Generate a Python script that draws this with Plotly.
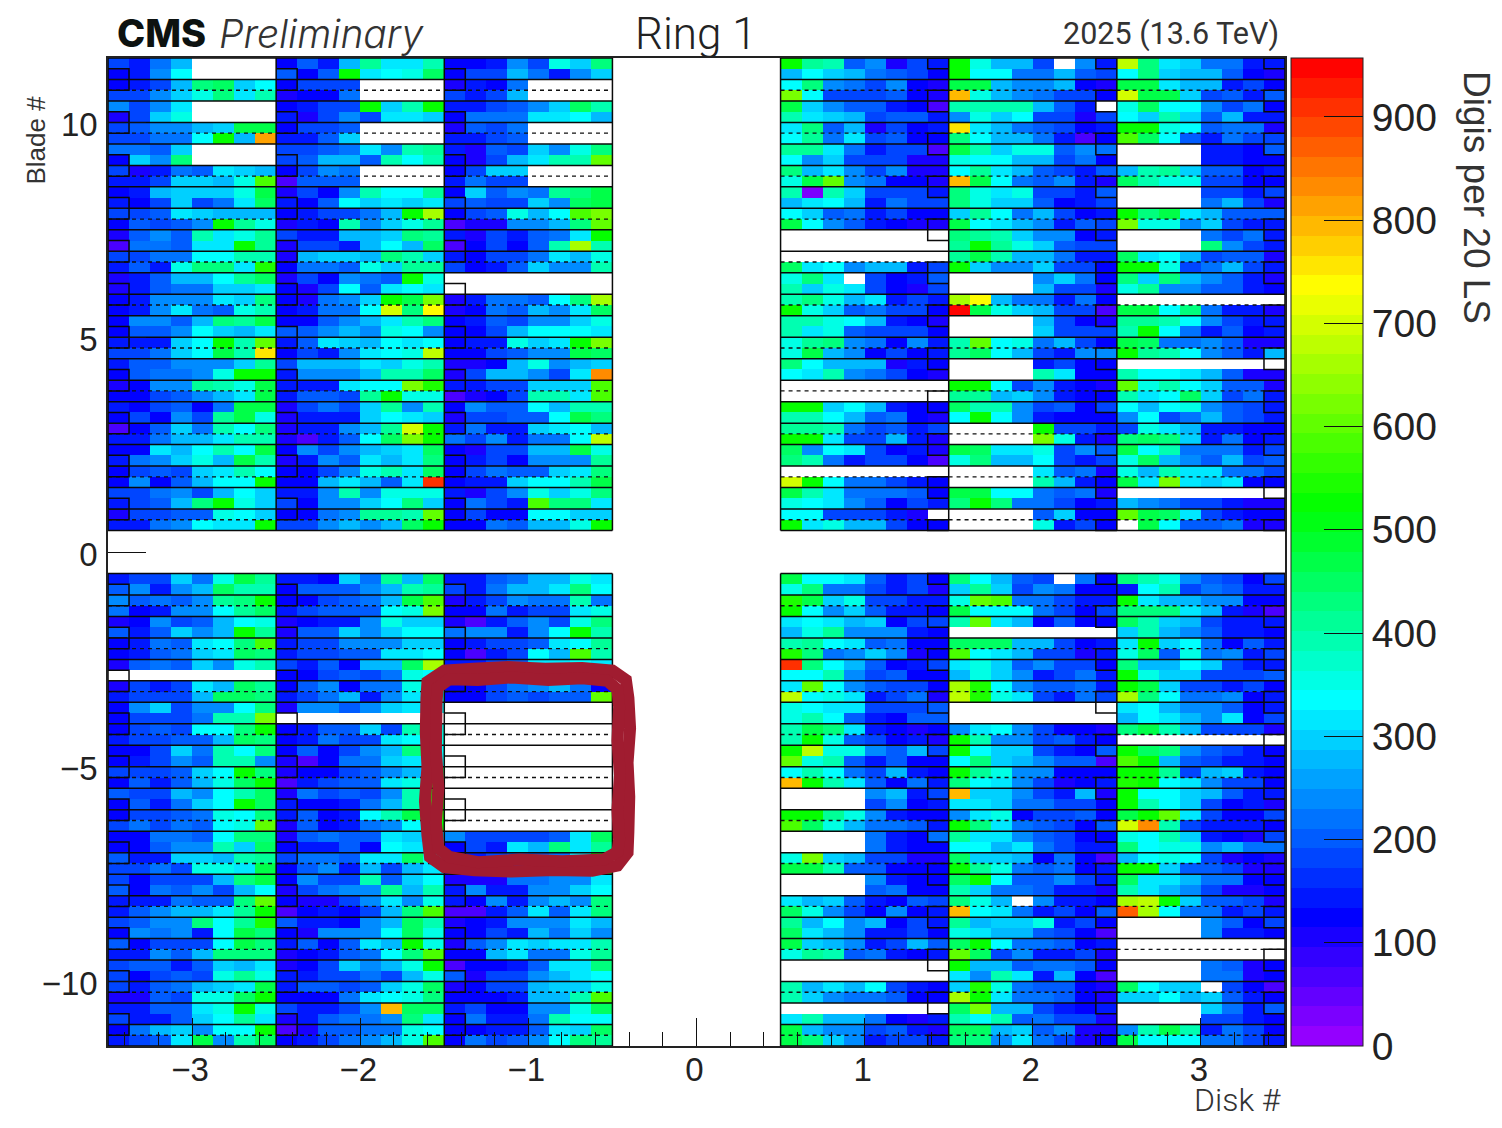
import plotly.graph_objects as go

# Cell codes: one character per cell, "." = no data. Six groups per row: disks -3 -2 -1 1 2 3.
CODE_VALUES = {"1": 25, "2": 75, "3": 100, "4": 125, "5": 150, "6": 177, "7": 204, "8": 217, "9": 244,
               "a": 270, "b": 296, "c": 315, "d": 335, "e": 363, "f": 387, "g": 410, "h": 429, "i": 452,
               "j": 475, "k": 522, "l": 549, "m": 575, "n": 602, "o": 628, "p": 655, "q": 668, "r": 688,
               "s": 708, "t": 735, "u": 760, "v": 790, "w": 815, "x": 840, "y": 880, "z": 910, "R": 950}

# y from +11.5 (first row) down to +0.5
TOP_ROWS = [
 "658a.... 475agccf 44596ebh kgf79365 keaa6.95 rhcb8855",
 "459d.... 747kcdei 466a859b adba8764 kdd88a76 dhbaa743",
 "456ahibd 4666.... 3548.... dh986943 jja99a43 jjcaa564",
 "669behcf 3448.... 656a.... od666743 vea98664 sjjb6757",
 "969c.... 4566kbfk 55679bif jb977542 ffffa75. eidd9684",
 "36be.... 53696ccb 4888ccda fcba6775 9ebd6636 dbfb7a55",
 "6799abjj 4667.... 3768.... ch7a3645 uca87645 kked7883",
 "6688dkaw 557b.... 5567.... dg8c6744 hdaa8524 mid75866",
 "887b.... 6678c9fg 5376b9eh ggc85662 jfbee798 ....5547",
 "4b9h.... 67aa7fdf 436acffn d9b66633 eddaa684 ....5544",
 "63587cba 4698.... 46bb.... hac96933 dgca7657 afgb7745",
 "556bbaem 2777.... 5866.... ejn98443 vjd87953 ifee6644",
 "45abbbej 3649fddg 4b798ghj f1fb6665 hece6657 ....6656",
 "546b68ci 547dbcbc 6766b9ij acda5866 hebb7456 ....8a63",
 "667cbaaa 45668akq 467eadmo db785644 bgd8a645 khjca777",
 "47679kge 354f9beg 23399ahn jd975433 jdca9576 oee9b655",
 "3797fceg 655aabhg 536578ck ........ hgfb9945 ....8685",
 "2887cckg 3665adai 24647fqf ........ gkgeb766 ....h965",
 "6688ddff 3abbahfb 54668cae ........ gjfaa855 icda6773",
 "575ehhcl 4887ebgg 6457b99f icd9aa56 kb99b664 kke68a65",
 "357aadgi 364987ke ........ ehc.6457 ....9b84 hbha9753",
 "35788bbc 436d7cdc ........ fbec6436 ....a663 eg997754",
 "45999cbh 4389bkjo 35887dhp fheac565 pta88584 ........",
 "459c87ef 4588dsht 3487a9ci keb78664 Rjeba662 jjdh8553",
 "4997ahgj 4479acfh 457699be ffeda543 ....a643 ggfd9655",
 "4779dbac 779a9ed9 446adddc fce76664 ....b666 fkd85745",
 "555bdkfn 57cbadcd 455ebcko egh98495 fnde8a64 ji889733",
 "668bdjfu 4659cder 446799ji eja94645 gida6599 kgfd975a",
 "577999bg 6aaacbef 334ae9ab hdaaa354 ....5644 ........",
 "47889ekk 5999affi 36aa96cx dcf98643 ....fc44 fddca733",
 "3499gfej 555cddol 5566bbbm ........ kkd69543 nefdb773",
 "44679acj 5776gkee 2346ffcm ........ ggab9544 fcdib685",
 "546748jj 3686bg9f 4977daff kkbda544 iff96746 dade9765",
 "46496gje 3555bdcb 36677djh ffda7843 dkd95444 9d68a765",
 "247b8fdh 3559agsk 5855bcda ggf86756 ....k665 6eca5544",
 "558aacff 3257diok 869588dr kkc66a53 ....oe53 hihb5845",
 "44cadfdj 4969abci 4366aaje i9dc6453 jicce697 jdf88856",
 "589beajf 3597cach 4564999g hf856642 ehaad656 eia97a67",
 "4676bcfd 4469efci 46877bch ........ ....c783 eafcc886",
 "4947addk 44aca7cz 455bddfj skd88654 ....fa54 jcocbc44",
 "66896adb 559f9eee 5369ebeh jfc88874 jjdd8783 ........",
 "567ahkeb 6499bdhb 4865mhhc edc97465 hkh88645 a9866533",
 "36677edb 4489ggfn 4644ddbb dd66653. ....7b44 njic6544",
 "5589dcck 669a9aik 4487aaek kceaa644 ....e564 .jd77833",
]

# y from -0.5 (first row) down to -11.5
BOTTOM_ROWS = [
 "566b8ejg 554b8gai 5578aaec jddc7564 hda76.84 hfe97646",
 "7959aiff 47779afg 658aachd eh886563 bgb69844 5df68755",
 "97879ghk 44678ajm 356988f8 ljbe6655 enm88655 kcaa9944",
 "84599dgi 56777deo 448566ce kd9b7554 jddd8646 hhhca532",
 "34967ade 34559ebb 325796eh cdcab466 fnca4744 ifba6555",
 "757b9akg 377b9bdd 89959dkf aeg99954 ........ bfa97554",
 "4587cdhm 566999bb 45667cdg fgdc7844 iiiaa645 ckbd8475",
 "4578bcih 56677ccd 4256damf lh89b934 mdca6635 ei7e8956",
 "3787b9ef 6574aaip 5567ccdc zhda7456 ceb79664 haadb655",
 "........ 446768ed 44679985 ddf96744 aeb95685 kebb6667",
 "3656caig 479488ed 44689a84 cnd97664 pld97785 kjb66564",
 "5666aiih 568a59cd 4467677n rdec5683 rlec6586 qhd88945",
 "49b699dh 39979bcd ........ edcc6667 ........ cda99745",
 "46668ffo ........ ........ efd75477 ........ adca9c46",
 "4676ddhk 4577b6fe ........ fjhc5434 9cd96443 hjfa6663",
 "56677aih 45866cde ........ fke76453 kf996754 ........",
 "446b8fdh 47469ahd ........ kree97a6 kdbb6547 kih97654",
 "45697ff9 32488bcd ........ nef75744 dhba9772 mka76554",
 "6667bdkh 344679ai ........ dfd86a54 kge99444 kkg6ab54",
 "4757aeik 25677cek ........ vkfc7485 hdc96345 lkdc9664",
 "766a9dfi 386769fk ........ ....9a56 vbb965a3 kddba755",
 "4758bdki 54458afl ........ ....6945 ccb88664 kfdb6453",
 "46678edh 5745dfjl ........ kkge9544 9ce46674 jknc6446",
 "68687den 374589dk ........ miea8875 khc87647 sxf65554",
 "44887dhh 37877cbb 966667ci ....8548 gcc97644 edfb5436",
 "44799fbi 45574dcc 465cahcg ....8544 ddac8655 hdee9a88",
 "755bbafg 6887ccie 556778ck eoba6633 ibba4842 aded6343",
 "6686eecj 4795a6ac 445669dk jjf77444 kge87845 kkb77633",
 "64666ahj 4966f7bd 3338899c ....9544 ikd77965 icca8844",
 "748796ad 36899gaf 595599bd ....7844 fb887553 fca96334",
 "555877hn 43369c9e 54959a9h cab75476 hea.9554 qrkb7763",
 "579aacgk 24546ahm 2257c7ch ie964945 vdc85647 yqd88565",
 "6799hdgl 75549aif 345999ca gad9a465 gabbe564 ....9746",
 "49895djh 43999die 4465a8b9 ica95564 ecaa7642 ....9554",
 "74666djh 5747cake 379cbccf jba956a7 ikd88745 ........",
 "5597ahhh 34578dhm 44ac88eg egf78545 ni695563 ........",
 "67757bac 346b9aek 24457cch ........ kaa78874 ....8734",
 "64676ege 556686ae 73669acd ........ c9fc5a42 ....8834",
 "6578abcj 57767bei 3466abbe facad654 ble87743 idbb.642",
 "3376eeik 4448cdeh 4445aafm fb988744 pkc88743 bbdab754",
 "5577ceke 65569vii 564499ei ........ ioaa6545 ....b857",
 "6557bdgc 357889hc 48558fdd cfaa8435 fdf78663 ....6654",
 "48ab9ddk 237788ed 44557cbi ja996753 iiab7933 9fjf5864",
 "567cj9fi 45689aem 48679dhg jhb95665 hh9c8634 jddd8865",
]

DISKS = [-3, -2, -1, 1, 2, 3]
Z_MAX = 957
N_BANDS = 50
PALETTE_STOPS = [(0, (160, 0, 255)), (125, (0, 0, 255)), (335, (0, 255, 255)),
                 (522, (0, 255, 0)), (735, (255, 255, 0)), (950, (255, 0, 0)), (957, (255, 0, 0))]

# page body has an 8px margin
PAGE_W, PAGE_H = 1494, 1112
L, R, T, B = 107.5, 1285, 58, 1046
def px(x): return (x - L) / (R - L)
def py(y): return (B - y) / (B - T)


def decode(rows):
    out = []
    for r in rows:
        groups = r.split()
        assert len(groups) == 6 and all(len(g) == 8 for g in groups), r
        by_disk = {d: [CODE_VALUES.get(c) for c in g] for d, g in zip(DISKS, groups)}
        line = []
        for disk in (-3, -2, -1, 0, 1, 2, 3):
            line += by_disk.get(disk, [None] * 8)
        out.append(line)
    return out


blank = [[None] * 56 for _ in range(4)]
z = list(reversed(decode(TOP_ROWS) + blank + decode(BOTTOM_ROWS)))


def band_color(v):
    for (a, ca), (b, cb) in zip(PALETTE_STOPS, PALETTE_STOPS[1:]):
        if a <= v <= b:
            t = (v - a) / (b - a)
            return "rgb(%d,%d,%d)" % tuple(round(p + t * (q - p)) for p, q in zip(ca, cb))
    return "rgb(255,0,0)"


colorscale = []
for i in range(N_BANDS):
    c = band_color((i + 0.5) * Z_MAX / N_BANDS)
    colorscale += [[i / N_BANDS, c], [(i + 1) / N_BANDS, c]]

fig = go.Figure()
fig.add_trace(go.Heatmap(
    z=z, x0=-3.5 + 1 / 16, dx=0.125, y0=-11.5 + 0.125, dy=0.25,
    zmin=0, zmax=Z_MAX, colorscale=colorscale, zsmooth=False, hoverongaps=False,
    colorbar=dict(
        x=px(1291), xanchor="left", xpad=0, y=0.5, yanchor="middle", ypad=0,
        len=1, lenmode="fraction", thickness=72, thicknessmode="pixels",
        tickmode="array", tickvals=list(range(0, 1000, 100)), ticks="inside", ticklen=39,
        tickwidth=1.2, tickcolor="#111", outlinewidth=1, outlinecolor="#222",
        tickfont=dict(family="Liberation Sans", size=39, color="#222"),
    ),
))

# overlay grid derived from the detector layout
sx, sy, dx_, dy_ = [], [], [], []
edges = [-3.5, -2.5, -1.5, -0.5, 0.5, 1.5, 2.5, 3.5]
for sign_lo, sign_hi in ((0.5, 11.5), (-11.5, -0.5)):
    for x in edges:
        sx += [x, x, None]; sy += [sign_lo, sign_hi, None]
    n = int((sign_hi - sign_lo) / 0.5)
    for i in range(n + 1):
        y = sign_lo + i * 0.5
        sx += [-3.5, -0.5, None, 0.5, 3.5, None]; sy += [y, y, None, y, y, None]
for k in list(range(0, 11)) + list(range(-12, -1)):
    y = k + 0.75
    dx_ += [-3.5, -0.5, None, 0.5, 3.5, None]; dy_ += [y, y, None, y, y, None]
# read-out boxes in the first column (negative disks) / last column (positive disks)
for d in (-3, -2, -1):
    for k in list(range(0, 11)) + list(range(-12, -1)):
        lo, hi = k + 0.75, k + 1.25
        x0, x1 = d - 0.5, d - 0.375
        sx += [x0, x1, x1, x0, None]; sy += [hi, hi, lo, lo, None]
for d in (1, 2, 3):
    for k in list(range(0, 12)) + list(range(-12, 0)):
        lo, hi = k + 0.25, k + 0.75
        lo = max(lo, 0.5) if k >= 0 else max(lo, -11.5)
        hi = min(hi, 11.5) if k >= 0 else min(hi, -0.5)
        x0, x1 = d + 0.5, d + 0.375
        sx += [x0, x1, x1, x0, None]; sy += [hi, hi, lo, lo, None]

fig.add_trace(go.Scatter(x=dx_, y=dy_, mode="lines", hoverinfo="skip", showlegend=False,
                         line=dict(color="#111", width=1.4, dash="4px,4px")))
fig.add_trace(go.Scatter(x=sx, y=sy, mode="lines", hoverinfo="skip", showlegend=False,
                         line=dict(color="#0a0a0a", width=1.5)))

axis_font = dict(family="Liberation Sans", size=33, color="#222")
fig.update_xaxes(
    range=[-3.5, 3.5], tickmode="linear", tick0=0, dtick=1, ticks="inside", ticklen=28,
    tickwidth=1.2, tickcolor="#111", tickfont=axis_font, showgrid=False, zeroline=False,
    showline=True, linecolor="#222", linewidth=1.5, mirror=True,
    minor=dict(tick0=0, dtick=0.2, ticks="inside", ticklen=14, tickwidth=1.2, tickcolor="#111", showgrid=False),
    ticklabelstandoff=-6, ticklabelshift=-2,
)
fig.update_yaxes(
    range=[-11.5, 11.5], tickmode="linear", tick0=0, dtick=5, ticks="inside", ticklen=38,
    tickwidth=1.2, tickcolor="#111", tickfont=axis_font, showgrid=False, zeroline=False,
    showline=True, linecolor="#222", linewidth=1.5, mirror=True,
    minor=dict(tick0=0, dtick=1, ticks="inside", ticklen=19, tickwidth=1.2, tickcolor="#111", showgrid=False),
    ticklabelstandoff=2, ticklabelshift=2,
)

# hand-drawn marker: two wobbling strokes side by side
OUTER_STROKE = [(-1.606, -3.40), (-1.60, -3.02), (-1.50, -2.76), (-1.33, -2.72), (-1.12, -2.68), (-0.90, -2.72),
                (-0.68, -2.70), (-0.50, -2.76), (-0.42, -2.98), (-0.405, -3.40), (-0.395, -4.10), (-0.41, -4.90),
                (-0.40, -5.70), (-0.405, -6.50), (-0.41, -7.00), (-0.47, -7.30), (-0.62, -7.42), (-0.85, -7.40),
                (-1.10, -7.44), (-1.32, -7.41), (-1.50, -7.34), (-1.585, -7.10), (-1.60, -6.60), (-1.615, -5.80),
                (-1.60, -5.00), (-1.61, -4.20)]
INNER_STROKE = [(-1.546, -3.50), (-1.54, -3.16), (-1.47, -2.96), (-1.30, -2.98), (-1.10, -2.92), (-0.88, -2.98),
                (-0.68, -2.94), (-0.53, -3.00), (-0.47, -3.20), (-0.46, -3.60), (-0.47, -4.40), (-0.455, -5.20),
                (-0.47, -6.00), (-0.46, -6.70), (-0.47, -6.98), (-0.55, -7.16), (-0.80, -7.20), (-1.05, -7.16),
                (-1.30, -7.22), (-1.47, -7.10), (-1.535, -6.90), (-1.55, -6.30), (-1.535, -5.50), (-1.55, -4.60)]
for stroke in (OUTER_STROKE, INNER_STROKE):
    path = "M " + " L ".join("%g,%g" % p for p in stroke) + " Z"
    fig.add_shape(type="path", xref="x", yref="y", layer="above", path=path,
                  line=dict(color="#a01c30", width=12))


def text(x, y, s, size, family="Roboto", color="#222", anchor="left", angle=0, weight=None, style=None):
    fig.add_annotation(xref="paper", yref="paper", x=px(x), y=py(y), text=s, showarrow=False,
                       xanchor=anchor, yanchor="middle", textangle=angle,
                       font=dict(family=family, size=size, color=color, weight=weight, style=style))


text(115, 33, "CMS", 38, family="Inter", color="#0d1210", weight=800)
text(217, 34, "Preliminary", 39, family="Inter", color="#333", weight=300, style="italic")
text(696, 34, "Ring 1", 44, family="Roboto", anchor="center", color="#222", weight=300)
text(1281, 34, "2025 (13.6 TeV)", 30.5, family="Roboto", anchor="right", color="#333")
text(1283, 1100, "Disk #", 32, family="Roboto", anchor="right", color="#333", weight=300)
text(35, 140, "Blade #", 26, family="Liberation Sans", anchor="center", angle=-90, color="#333")
text(1477, 198, "Digis per 20 LS", 37, family="Liberation Sans", anchor="center", angle=90, color="#333")

fig.update_layout(
    width=PAGE_W, height=PAGE_H, autosize=False, paper_bgcolor="white", plot_bgcolor="white",
    margin=dict(l=L - 8, t=T - 8, r=PAGE_W - (R - 8), b=PAGE_H - (B - 8), pad=0),
    showlegend=False, dragmode=False,
)
fig.write_html("out.html")
